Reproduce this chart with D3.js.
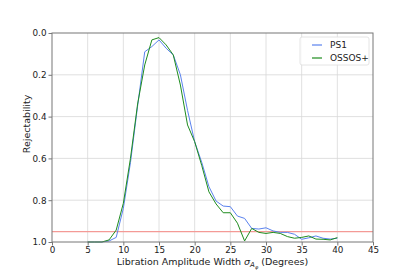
<!DOCTYPE html>
<html lang="en">
<head>
<meta charset="utf-8">
<title>Rejectability</title>
<script src="https://cdn.jsdelivr.net/npm/d3@7"></script>
<style>
  body { margin: 0; background: #fff; }
  text { font-family: "DejaVu Sans", sans-serif; }
</style>
</head>
<body>
<script>
// libration amplitude widths (degrees)
var widths = [5, 6, 7, 8, 9, 10, 11, 12, 13, 14, 15, 16, 17, 18, 19, 20, 21, 22, 23, 24, 25, 26, 27, 28, 29, 30, 31, 32, 33, 34, 35, 36, 37, 38, 39, 40];

var ps1 = [1.0, 1.0, 1.0, 0.995, 0.978, 0.839, 0.62, 0.35, 0.09, 0.065, 0.033, 0.073, 0.105, 0.2, 0.37, 0.52, 0.62, 0.735, 0.804, 0.828, 0.831, 0.876, 0.887, 0.935, 0.938, 0.932, 0.947, 0.954, 0.954, 0.963, 0.987, 0.98, 0.971, 0.982, 0.986, 0.982];

var ossos = [1.0, 1.0, 1.0, 0.99, 0.943, 0.815, 0.6, 0.34, 0.153, 0.033, 0.022, 0.057, 0.105, 0.249, 0.44, 0.52, 0.635, 0.76, 0.818, 0.86, 0.86, 0.91, 0.995, 0.935, 0.954, 0.959, 0.954, 0.959, 0.974, 0.982, 0.978, 0.971, 0.986, 0.987, 0.99, 0.979];

var threshold = 0.95;

var xTicks = [0, 5, 10, 15, 20, 25, 30, 35, 40, 45];
var yTicks = [0.0, 0.2, 0.4, 0.6, 0.8, 1.0];

var w = 415, h = 277;
var mLeft = 52, mRight = 373, mTop = 33, mBottom = 242;

var svg = d3.select("body").append("svg")
  .attr("width", w).attr("height", h);

var x = d3.scaleLinear().domain([0, 45]).range([mLeft, mRight]);
var y = d3.scaleLinear().domain([0, 1]).range([mTop, mBottom]);

// grid
svg.append("g").selectAll("line").data(xTicks.slice(1, -1)).enter().append("line")
  .attr("x1", function(d) { return x(d); }).attr("x2", function(d) { return x(d); })
  .attr("y1", mTop).attr("y2", mBottom)
  .attr("stroke", "#d8d8d8").attr("stroke-width", 0.8);
svg.append("g").selectAll("line").data(yTicks.slice(1, -1)).enter().append("line")
  .attr("y1", function(d) { return y(d); }).attr("y2", function(d) { return y(d); })
  .attr("x1", mLeft).attr("x2", mRight)
  .attr("stroke", "#d8d8d8").attr("stroke-width", 0.8);

// threshold
svg.append("line")
  .attr("x1", mLeft).attr("x2", mRight)
  .attr("y1", y(threshold)).attr("y2", y(threshold))
  .attr("stroke", "#f49a96").attr("stroke-width", 1.2);

var line = d3.line()
  .x(function(d, i) { return x(widths[i]); })
  .y(function(d) { return y(d); });

svg.append("path").datum(ps1)
  .attr("d", line).attr("fill", "none")
  .attr("stroke", "#5a82ee").attr("stroke-width", 1);
svg.append("path").datum(ossos)
  .attr("d", line).attr("fill", "none")
  .attr("stroke", "#1e8c1e").attr("stroke-width", 1);

// axes
var xAxis = svg.append("g").attr("transform", "translate(0," + mBottom + ")")
  .call(d3.axisBottom(x).tickValues(xTicks).tickSize(3.5).tickPadding(1.5).tickFormat(d3.format("d")));
var yAxis = svg.append("g").attr("transform", "translate(" + mLeft + ",0)")
  .call(d3.axisLeft(y).tickValues(yTicks).tickSize(3.5).tickPadding(2).tickFormat(d3.format(".1f")));
[xAxis, yAxis].forEach(function(g) {
  g.select(".domain").remove();
  g.selectAll("line").attr("stroke", "#555").attr("stroke-width", 0.8);
  g.selectAll("text").attr("font-size", 8.8).attr("fill", "#222")
    .attr("font-family", "DejaVu Sans, sans-serif");
});

// frame
svg.append("rect")
  .attr("x", mLeft).attr("y", mTop)
  .attr("width", mRight - mLeft).attr("height", mBottom - mTop)
  .attr("fill", "none").attr("stroke", "#777").attr("stroke-width", 1);

// labels
var xl = svg.append("text")
  .attr("x", (mLeft + mRight) / 2).attr("y", 265)
  .attr("text-anchor", "middle").attr("font-size", 9.5).attr("fill", "#222");
xl.append("tspan").text("Libration Amplitude Width ");
xl.append("tspan").attr("font-style", "italic").text("σ");
xl.append("tspan").attr("font-size", 7).attr("dy", 2).attr("font-style", "italic").text("A");
xl.append("tspan").attr("font-size", 5).attr("dy", 1.5).attr("font-style", "italic").text("φ");
xl.append("tspan").attr("dy", -3.5).text(" (Degrees)");

svg.append("text")
  .attr("transform", "translate(30,124) rotate(-90)")
  .attr("text-anchor", "middle").attr("font-size", 9.5).attr("fill", "#222")
  .text("Rejectability");

// legend
var series = [{ name: "PS1", color: "#5a82ee" }, { name: "OSSOS+", color: "#1e8c1e" }];
var lg = svg.append("g").attr("transform", "translate(300,37)");
lg.append("rect").attr("width", 69).attr("height", 28).attr("rx", 2)
  .attr("fill", "#fff").attr("fill-opacity", 0.85)
  .attr("stroke", "#ddd").attr("stroke-width", 0.8);
var item = lg.selectAll("g.item").data(series).enter().append("g")
  .attr("transform", function(d, i) { return "translate(0," + (8 + i * 13) + ")"; });
item.append("line").attr("x1", 12).attr("x2", 22)
  .attr("stroke", function(d) { return d.color; }).attr("stroke-width", 1.2);
item.append("text").attr("x", 30).attr("y", 3.2)
  .attr("font-size", 9).attr("fill", "#222")
  .text(function(d) { return d.name; });
</script>
</body>
</html>
